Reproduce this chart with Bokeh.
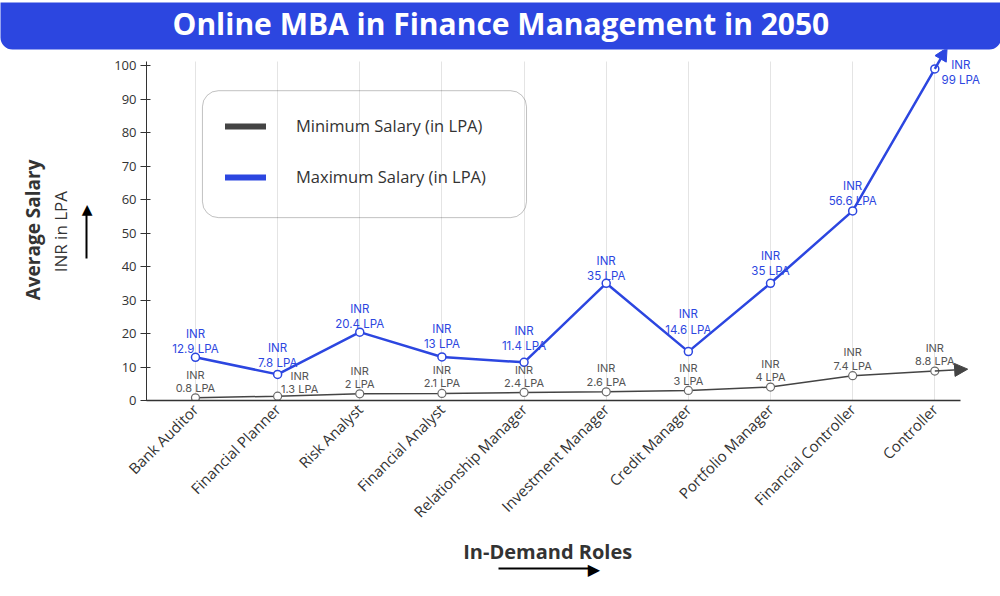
import math
from bokeh.plotting import figure
from bokeh.models import (BoxAnnotation, Arrow, NormalHead, Legend, LegendItem,
                          FixedTicker, ColumnDataSource, Range1d, LinearAxis)
from bokeh.embed import file_html
from bokeh.resources import INLINE
from bokeh.core.properties import value

# ---------------- data ----------------
TITLE = "Online MBA in Finance Management in 2050"
roles = ["Bank Auditor", "Financial Planner", "Risk Analyst", "Financial Analyst",
         "Relationship Manager", "Investment Manager", "Credit Manager",
         "Portfolio Manager", "Financial Controller", "Controller"]
min_salary = [0.8, 1.3, 2, 2.1, 2.4, 2.6, 3, 4, 7.4, 8.8]
max_salary = [12.9, 7.8, 20.4, 13, 11.4, 35, 14.6, 35, 56.6, 99]
y_ticks = [0, 10, 20, 30, 40, 50, 60, 70, 80, 90, 100]
series_names = ["Minimum Salary (in LPA)", "Maximum Salary (in LPA)"]
x_title = "In-Demand Roles"
y_title = "Average Salary"
y_subtitle = "INR in LPA"

# label placement (pixels), kept apart from the data
min_lbl_dx = [0, 22, 0, 0, 0, 0, 0, 0, 0, 0]
min_lbl_dy = [-3, 0, -3, -3, -2, -3, -2, -3, -3, -3]
max_lbl_dx = [0, 0, 0, 0, 0, 0, 0, 0, 0, 26]
max_lbl_dy = [-1, -4, -1, -6, -9, 0, -15, -5, -3, 18]

BLUE = "#2c46e0"
DARK = "#444444"
TXT = "#333333"
FONT = "Open Sans"
LFONT = "Inter"
NB = "\u00a0"   # used to nudge centred axis titles

idx = list(range(len(roles)))
X0, X1 = -0.596, 9.312      # extent of the drawn x axis
YTOP = 101.2                # extent of the drawn y axis

p = figure(width=1000, height=596, x_range=Range1d(X0, 9.678), y_range=Range1d(0, 104.8),
           toolbar_location=None, output_backend="svg",
           min_border_left=146, min_border_right=10, min_border_top=49, min_border_bottom=196,
           outline_line_color=None, background_fill_color="white", border_fill_color="white")

# ---- banner title ----
p.title.text = TITLE
p.title.align = "left"
p.title.offset = -146
p.title.standoff = 0
p.title.text_font = FONT
p.title.text_font_style = "bold"
p.title.text_font_size = "30px"
p.title.text_color = "white"
p.title.background_fill_color = BLUE
p.title.padding = dict(left=172, right=172, top=0, bottom=6)
p.title.border_radius = (0, 0, 12, 12)

# ---- grid ----
p.ygrid.grid_line_color = None
p.xgrid.ticker = FixedTicker(ticks=idx)
p.xgrid.grid_line_color = "#e4e4e4"
for g in p.xgrid:
    if "cross_bounds" in g.properties():
        g.cross_bounds = (0, YTOP)

# ---- y axis ----
p.yaxis.ticker = FixedTicker(ticks=y_ticks)
p.yaxis.bounds = (0, YTOP)
p.yaxis.major_tick_in = 4
p.yaxis.major_tick_out = 6
p.yaxis.minor_tick_line_color = None
p.yaxis.axis_line_color = TXT
p.yaxis.major_tick_line_color = TXT
p.yaxis.major_label_text_font = FONT
p.yaxis.major_label_text_font_size = "13px"
p.yaxis.major_label_text_color = TXT
p.yaxis.major_label_standoff = 4


def bare_axis(**kw):
    ax = LinearAxis(ticker=FixedTicker(ticks=[]), axis_line_color=None,
                    major_tick_line_color=None, minor_tick_line_color=None,
                    major_tick_in=0, major_tick_out=0, minor_tick_in=0, minor_tick_out=0,
                    major_label_standoff=0, axis_label_standoff=0,
                    axis_label_text_font=FONT, axis_label_text_color=TXT,
                    axis_label_text_font_style="normal")
    ax.update(**kw)
    return ax

# spacer between tick labels and the up-arrow (invisible tick of 25px)
p.add_layout(bare_axis(ticker=FixedTicker(ticks=[50]), major_tick_out=25,
                       major_label_overrides={50: ""}, major_label_text_font_size="0px"), "left")
# up-arrow (axis line = shaft, tick label = head) carrying the sub-title
p.add_layout(bare_axis(ticker=FixedTicker(ticks=[57.3]), bounds=(42.4, 56.7),
                       axis_line_color="black", axis_line_width=2,
                       major_label_overrides={57.3: "\u25b2"},
                       major_label_text_font="DejaVu Sans", major_label_text_font_size="14px",
                       major_label_text_color="black", major_label_standoff=-6,
                       axis_label=y_subtitle + NB * 3, axis_label_standoff=7,
                       axis_label_text_font_size="17px"), "left")
p.add_layout(bare_axis(axis_label=y_title + NB * 2, axis_label_text_font_style="bold",
                       axis_label_text_font_size="19px"), "left")

# ---- x axis ----
p.xaxis.ticker = FixedTicker(ticks=idx)
p.xaxis.bounds = (X0, X1)
p.xaxis.major_label_overrides = {i: r for i, r in zip(idx, roles)}
p.xaxis.major_label_orientation = math.pi / 4
p.xaxis.major_tick_in = 0
p.xaxis.major_tick_out = 0
p.xaxis.minor_tick_line_color = None
p.xaxis.axis_line_color = TXT
p.xaxis.axis_line_width = 1.5
p.xaxis.major_label_text_font = FONT
p.xaxis.major_label_text_font_size = "15px"
p.xaxis.major_label_text_color = TXT
p.xaxis.major_label_standoff = 6
p.xaxis.axis_label = x_title + NB * 8
p.xaxis.axis_label_standoff = 7
p.xaxis.axis_label_text_font = FONT
p.xaxis.axis_label_text_font_style = "bold"
p.xaxis.axis_label_text_font_size = "20px"
p.xaxis.axis_label_text_color = TXT

# right-arrow under the x title (axis line = shaft, tick label = head)
p.add_layout(bare_axis(ticker=FixedTicker(ticks=[4.85]), bounds=(3.69, 4.8),
                       axis_line_color="black", axis_line_width=2,
                       major_label_overrides={4.85: "\u25b6"},
                       major_label_text_font="DejaVu Sans", major_label_text_font_size="16px",
                       major_label_text_color="black", major_label_standoff=-9), "below")

# ---- series ----
src = ColumnDataSource(dict(
    x=idx, mn=min_salary, mx=max_salary,
    mn_lbl=[f"INR\n{v:g} LPA" for v in min_salary],
    mx_lbl=[f"INR\n{v:g} LPA" for v in max_salary],
    mn_dx=min_lbl_dx, mn_dy=min_lbl_dy, mx_dx=max_lbl_dx, mx_dy=max_lbl_dy,
))

p.line("x", "mn", source=src, line_color=DARK, line_width=1.5)
p.line("x", "mx", source=src, line_color=BLUE, line_width=2.5)

def ext(vals, f):
    n = len(vals) - 1
    return (n + f, vals[-1] + f * (vals[-1] - vals[-2]))

ex, ey = ext(min_salary, 0.40)
p.add_layout(Arrow(end=NormalHead(size=13, fill_color=DARK, line_color=DARK),
                   x_start=idx[-1], y_start=min_salary[-1], x_end=ex, y_end=ey,
                   line_color=DARK, line_width=1.5))
ex, ey = ext(max_salary, 0.15)
p.add_layout(Arrow(end=NormalHead(size=13, fill_color=BLUE, line_color=BLUE),
                   x_start=idx[-1], y_start=max_salary[-1], x_end=ex, y_end=ey,
                   line_color=BLUE, line_width=2.5))

p.scatter("x", "mn", source=src, size=8, fill_color="white", line_color="#6b6b6b", line_width=1.2)
p.scatter("x", "mx", source=src, size=8, fill_color="white", line_color=BLUE, line_width=1.5)

p.text("x", "mn", text="mn_lbl", source=src, x_offset="mn_dx", y_offset="mn_dy",
       text_align="center", text_baseline="bottom", text_font=value(LFONT),
       text_font_size="11px", text_color="#555555", text_line_height=0.95)
p.text("x", "mx", text="mx_lbl", source=src, x_offset="mx_dx", y_offset="mx_dy",
       text_align="center", text_baseline="bottom", text_font=value(LFONT),
       text_font_size="11.5px", text_color=BLUE, text_line_height=1.08)

# ---- legend ----
nan = float("nan")
r_min = p.line([nan], [nan], line_color=DARK, line_width=6, line_cap="round")
r_max = p.line([nan], [nan], line_color=BLUE, line_width=6, line_cap="round")
legend = Legend(items=[LegendItem(label=series_names[0], renderers=[r_min]),
                       LegendItem(label=series_names[1], renderers=[r_max])],
                location=(79, 212), glyph_width=41, glyph_height=20, label_height=20,
                spacing=28, label_standoff=30, padding=0, margin=0,
                border_line_color=None, background_fill_alpha=0,
                label_text_font=FONT, label_text_font_size="16.5px", label_text_color=TXT)
p.add_layout(legend)
p.add_layout(BoxAnnotation(left=0.085, right=4.03, top=92.5, bottom=54.6, fill_alpha=0,
                           line_color=TXT, line_width=1, border_radius=16))

open("out.html", "w").write(file_html(p, INLINE))
